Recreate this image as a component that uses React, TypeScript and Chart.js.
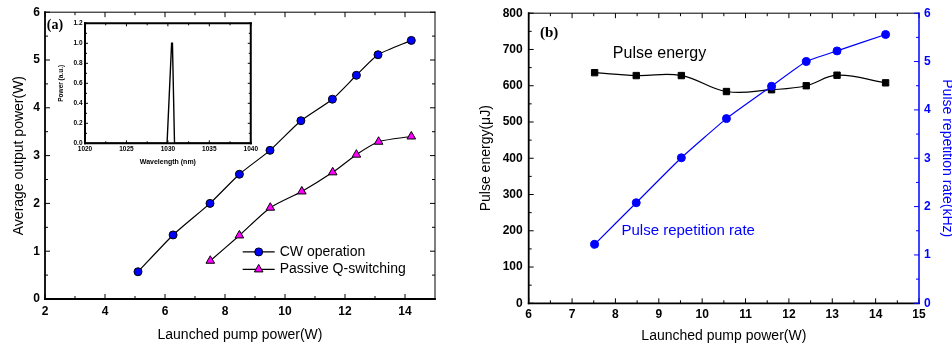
import React, { useEffect, useRef } from "react";
import { Chart, registerables } from "chart.js";
import { drawPoint } from "chart.js/helpers";

Chart.register(...registerables);

const FONT = "'Liberation Sans', Arial, Helvetica, sans-serif";
const SERIF = "'Liberation Serif', 'Times New Roman', serif";
const BLUE = "#0000ff";
const MAGENTA = "#ff00ff";

// ---- Panel (a) data ----
const pumpCW = [5.1, 6.27, 7.5, 8.48, 9.5, 10.53, 11.58, 12.38, 13.1, 14.21];
const powerCW = [0.57, 1.34, 2.0, 2.61, 3.11, 3.73, 4.18, 4.68, 5.11, 5.41];
const pumpQS = [7.51, 8.48, 9.51, 10.56, 11.59, 12.38, 13.12, 14.21];
const powerQS = [0.8, 1.33, 1.91, 2.25, 2.65, 3.02, 3.29, 3.4];
const xTicksA = [2, 4, 6, 8, 10, 12, 14];
const yTicksA = [0, 1, 2, 3, 4, 5, 6];

// ---- Inset data ----
const wavelength = [1020, 1029.9, 1030.45, 1030.55, 1030.8, 1040];
const spectrum = [0, 0, 1.0, 1.0, 0, 0];
const xTicksInset = [1020, 1025, 1030, 1035, 1040];
const yTicksInset = [0, 0.2, 0.4, 0.6, 0.8, 1.0, 1.2];

// ---- Panel (b) data ----
const pumpB = [7.52, 8.48, 9.52, 10.56, 11.6, 12.4, 13.11, 14.23];
const pulseEnergy = [636, 628, 628, 584, 589, 600, 629, 608];
const repRate = [1.22, 2.08, 3.01, 3.82, 4.49, 5.0, 5.22, 5.56];
const xTicksB = [6, 7, 8, 9, 10, 11, 12, 13, 14, 15];
const yTicksB = [0, 100, 200, 300, 400, 500, 600, 700, 800];
const y2TicksB = [0, 1, 2, 3, 4, 5, 6];

function minorsOf(majors: number[], max: number) {
  const out: number[] = [];
  for (let i = 0; i < majors.length - 1; i++) out.push((majors[i] + majors[i + 1]) / 2);
  const step = majors[1] - majors[0];
  const last = majors[majors.length - 1] + step / 2;
  if (last < max - 1e-9) out.push(last);
  return out;
}

const frameTicks = {
  id: "frameTicks",
  afterDatasetsDraw(chart: any, _args: any, opts: any) {
    const { ctx, chartArea: ca } = chart;
    ctx.save();
    for (const side of opts.sides || []) {
      const scale = chart.scales[side.scale];
      const majors = scale.ticks.map((t: any) => t.value);
      const minors = minorsOf(majors, scale.max);
      ctx.strokeStyle = side.color;
      ctx.lineWidth = side.tickWidth ?? 1;
      ctx.lineCap = "butt";
      const tick = (v: number, len: number) => {
        const p = scale.getPixelForValue(v);
        ctx.beginPath();
        if (side.pos === "bottom") { ctx.moveTo(p, ca.bottom); ctx.lineTo(p, ca.bottom - len); }
        else if (side.pos === "top") { ctx.moveTo(p, ca.top); ctx.lineTo(p, ca.top + len); }
        else if (side.pos === "left") { ctx.moveTo(ca.left, p); ctx.lineTo(ca.left + len, p); }
        else { ctx.moveTo(ca.right, p); ctx.lineTo(ca.right - len, p); }
        ctx.stroke();
      };
      majors.forEach((v: number) => tick(v, opts.major));
      minors.forEach((v: number) => tick(v, opts.minor));
      ctx.lineWidth = side.lineWidth;
      ctx.lineCap = "square";
      ctx.beginPath();
      if (side.pos === "bottom") { ctx.moveTo(ca.left, ca.bottom); ctx.lineTo(ca.right, ca.bottom); }
      else if (side.pos === "top") { ctx.moveTo(ca.left, ca.top); ctx.lineTo(ca.right, ca.top); }
      else if (side.pos === "left") { ctx.moveTo(ca.left, ca.top); ctx.lineTo(ca.left, ca.bottom); }
      else { ctx.moveTo(ca.right, ca.top); ctx.lineTo(ca.right, ca.bottom); }
      ctx.stroke();
    }
    ctx.restore();
  },
};

// text notes anchored at data coordinates
const notes = {
  id: "notes",
  afterDraw(chart: any, _args: any, opts: any) {
    const { ctx } = chart;
    ctx.save();
    for (const n of opts.items || []) {
      const x = chart.scales[n.xs].getPixelForValue(n.x);
      const y = chart.scales[n.ys].getPixelForValue(n.y);
      ctx.font = n.font;
      ctx.fillStyle = n.color;
      ctx.textAlign = "left";
      ctx.textBaseline = "middle";
      ctx.fillText(n.text, x, y);
    }
    // legend
    const lg = opts.legend;
    if (lg) {
      const x0 = chart.scales.x.getPixelForValue(lg.x);
      let y0 = chart.scales.y.getPixelForValue(lg.y);
      for (const it of lg.items) {
        ctx.strokeStyle = "#000";
        ctx.lineWidth = 1.2;
        ctx.beginPath();
        ctx.moveTo(x0, y0);
        ctx.lineTo(x0 + 32, y0);
        ctx.stroke();
        ctx.fillStyle = it.fill;
        ctx.strokeStyle = "#000";
        ctx.lineWidth = 1;
        drawPoint(ctx, { pointStyle: it.style, radius: it.radius, rotation: 0, borderWidth: 1 } as any, x0 + 16, y0);
        ctx.font = `14px ${FONT}`;
        ctx.fillStyle = "#000";
        ctx.textAlign = "left";
        ctx.textBaseline = "middle";
        ctx.fillText(it.label, x0 + 37, y0);
        y0 += 17.5;
      }
    }
    ctx.restore();
  },
};

const setTicks = (vals: number[]) => (s: any) => {
  s.ticks = vals.map((v) => ({ value: v }));
};

const tickFont = (size: number) => ({ family: FONT, size, weight: "bold" as const });

export default function App() {
  const refA = useRef<HTMLCanvasElement>(null);
  const refB = useRef<HTMLCanvasElement>(null);
  const refI = useRef<HTMLCanvasElement>(null);

  useEffect(() => {
    const charts: Chart[] = [];

    // ---------- Panel (a) ----------
    charts.push(
      new Chart(refA.current!, {
        type: "line",
        data: {
          datasets: [
            {
              label: "CW operation",
              data: pumpCW.map((x, i) => ({ x, y: powerCW[i] })),
              borderColor: "#000",
              borderWidth: 1.2,
              pointStyle: "circle",
              pointRadius: 4,
              pointBackgroundColor: BLUE,
              pointBorderColor: "#000",
              pointBorderWidth: 1,
              tension: 0.2,
            },
            {
              label: "Passive Q-switching",
              data: pumpQS.map((x, i) => ({ x, y: powerQS[i] })),
              borderColor: "#000",
              borderWidth: 1.2,
              pointStyle: "triangle",
              pointRadius: 5,
              pointBackgroundColor: MAGENTA,
              pointBorderColor: "#000",
              pointBorderWidth: 1,
              tension: 0.25,
            },
          ],
        },
        options: {
          responsive: false,
          animation: false,
          events: [],
          layout: { padding: { top: 11, right: 35, left: 0, bottom: 0 } },
          plugins: {
            legend: { display: false },
            tooltip: { enabled: false },
            frameTicks: {
              major: 5,
              minor: 3,
              sides: [
                { scale: "x", pos: "bottom", color: "#000", lineWidth: 1.8 },
                { scale: "x", pos: "top", color: "#000", lineWidth: 1 },
                { scale: "y", pos: "left", color: "#000", lineWidth: 1.8 },
                { scale: "y", pos: "right", color: "#000", lineWidth: 1 },
              ],
            },
            notes: {
              items: [{ text: "(a)", x: 2.06, y: 5.73, xs: "x", ys: "y", font: `bold 14px ${SERIF}`, color: "#000" }],
              legend: {
                x: 8.59,
                y: 0.985,
                items: [
                  { label: "CW operation", style: "circle", radius: 4, fill: BLUE },
                  { label: "Passive Q-switching", style: "triangle", radius: 5, fill: MAGENTA },
                ],
              },
            },
          } as any,
          scales: {
            x: {
              type: "linear",
              min: 2,
              max: 15,
              afterBuildTicks: setTicks(xTicksA),
              afterFit: (s: any) => { s.height = 48; },
              grid: { display: false, drawTicks: false },
              border: { display: false },
              ticks: { font: tickFont(12), color: "#000", padding: 5, maxRotation: 0 },
              title: { display: true, text: "Launched pump power(W)", font: { family: FONT, size: 14 }, color: "#000", padding: { top: 0, bottom: 3 } },
            },
            y: {
              type: "linear",
              min: 0,
              max: 6,
              afterBuildTicks: setTicks(yTicksA),
              afterFit: (s: any) => { s.width = 45; },
              grid: { display: false, drawTicks: false },
              border: { display: false },
              ticks: { font: tickFont(12), color: "#000", padding: 5 },
              title: { display: true, text: "Average output power(W)", font: { family: FONT, size: 14 }, color: "#000", padding: { top: 11, bottom: 0 } },
            },
          },
        },
        plugins: [frameTicks, notes],
      } as any)
    );

    // ---------- Inset ----------
    charts.push(
      new Chart(refI.current!, {
        type: "line",
        data: {
          datasets: [
            {
              label: "Spectrum",
              data: wavelength.map((x, i) => ({ x, y: spectrum[i] })),
              borderColor: "#000",
              borderWidth: 1.4,
              pointRadius: 0,
              tension: 0,
            },
          ],
        },
        options: {
          responsive: false,
          animation: false,
          events: [],
          layout: { padding: { top: 8.3, right: 8.3, left: 0, bottom: 0 } },
          plugins: {
            legend: { display: false },
            tooltip: { enabled: false },
            frameTicks: {
              major: 3,
              minor: 2,
              sides: [
                { scale: "x", pos: "bottom", color: "#000", lineWidth: 2 },
                { scale: "x", pos: "top", color: "#000", lineWidth: 2 },
                { scale: "y", pos: "left", color: "#000", lineWidth: 2 },
                { scale: "y", pos: "right", color: "#000", lineWidth: 2 },
              ],
            },
          } as any,
          scales: {
            x: {
              type: "linear",
              min: 1020,
              max: 1040,
              afterBuildTicks: setTicks(xTicksInset),
              afterFit: (s: any) => { s.height = 26.7; },
              grid: { display: false, drawTicks: false },
              border: { display: false },
              ticks: { font: tickFont(6.5), color: "#000", padding: 2, maxRotation: 0, callback: (v: any) => String(v) },
              title: { display: true, text: "Wavelength (nm)", font: { family: FONT, size: 7, weight: "bold" }, color: "#000", padding: { top: 0, bottom: 3.5 } },
            },
            y: {
              type: "linear",
              min: 0,
              max: 1.2,
              afterBuildTicks: setTicks(yTicksInset),
              afterFit: (s: any) => { s.width = 30; },
              grid: { display: false, drawTicks: false },
              border: { display: false },
              ticks: { font: tickFont(6.5), color: "#000", padding: 2.5, callback: (v: any) => Number(v).toFixed(1) },
              title: { display: true, text: "Power (a.u.)", font: { family: FONT, size: 6.5, weight: "bold" }, color: "#000", padding: { top: 2.5, bottom: 0 } },
            },
          },
        },
        plugins: [frameTicks],
      } as any)
    );

    // ---------- Panel (b) ----------
    charts.push(
      new Chart(refB.current!, {
        type: "line",
        data: {
          datasets: [
            {
              label: "Pulse repetition rate",
              yAxisID: "y1",
              data: pumpB.map((x, i) => ({ x, y: repRate[i] })),
              borderColor: BLUE,
              borderWidth: 1.2,
              pointStyle: "circle",
              pointRadius: 4,
              pointBackgroundColor: BLUE,
              pointBorderColor: BLUE,
              pointBorderWidth: 1,
              tension: 0.15,
            },
            {
              label: "Pulse energy",
              yAxisID: "y",
              data: pumpB.map((x, i) => ({ x, y: pulseEnergy[i] })),
              borderColor: "#000",
              borderWidth: 1.2,
              pointStyle: "rect",
              pointRadius: 4.5,
              pointBackgroundColor: "#000",
              pointBorderColor: "#000",
              pointBorderWidth: 1,
              tension: 0.4,
            },
          ],
        },
        options: {
          responsive: false,
          animation: false,
          events: [],
          layout: { padding: { top: 12.7, right: 0, left: 0, bottom: 0 } },
          plugins: {
            legend: { display: false },
            tooltip: { enabled: false },
            frameTicks: {
              major: 5,
              minor: 3,
              sides: [
                { scale: "x", pos: "bottom", color: "#000", lineWidth: 1.8 },
                { scale: "x", pos: "top", color: "#000", lineWidth: 1 },
                { scale: "y", pos: "left", color: "#000", lineWidth: 1.8 },
                { scale: "y1", pos: "right", color: BLUE, lineWidth: 1.5 },
              ],
            },
            notes: {
              items: [
                { text: "(b)", x: 6.26, y: 745, xs: "x", ys: "y", font: `bold 15px ${SERIF}`, color: "#000" },
                { text: "Pulse energy", x: 7.94, y: 688, xs: "x", ys: "y", font: `16px ${FONT}`, color: "#000" },
                { text: "Pulse repetition rate", x: 8.14, y: 199, xs: "x", ys: "y", font: `15px ${FONT}`, color: BLUE },
              ],
            },
          } as any,
          scales: {
            x: {
              type: "linear",
              min: 6,
              max: 15,
              afterBuildTicks: setTicks(xTicksB),
              afterFit: (s: any) => { s.height = 43.7; },
              grid: { display: false, drawTicks: false },
              border: { display: false },
              ticks: { font: tickFont(12), color: "#000", padding: 4, maxRotation: 0 },
              title: { display: true, text: "Launched pump power(W)", font: { family: FONT, size: 14 }, color: "#000", padding: { top: 0, bottom: 2 } },
            },
            y: {
              type: "linear",
              position: "left",
              min: 0,
              max: 800,
              afterBuildTicks: setTicks(yTicksB),
              afterFit: (s: any) => { s.width = 58.7; },
              grid: { display: false, drawTicks: false },
              border: { display: false },
              ticks: { font: tickFont(12), color: "#000", padding: 6 },
              title: { display: true, text: "Pulse energy(μJ)", font: { family: FONT, size: 14 }, color: "#000", padding: { top: 8, bottom: 0 } },
            },
            y1: {
              type: "linear",
              position: "right",
              min: 0,
              max: 6,
              afterBuildTicks: setTicks(y2TicksB),
              afterFit: (s: any) => { s.width = 33; },
              grid: { display: false, drawTicks: false },
              border: { display: false },
              ticks: { font: tickFont(12), color: BLUE, padding: 5 },
              title: { display: true, text: "Pulse repetition rate(kHz)", font: { family: FONT, size: 14, lineHeight: 1 }, color: BLUE, padding: { top: -2, bottom: 0 } },
            },
          },
        },
        plugins: [frameTicks, notes],
      } as any)
    );

    return () => charts.forEach((c) => c.destroy());
  }, []);

  return (
    <div style={{ position: "absolute", left: 0, top: 0, width: 952, height: 347, background: "#fff", overflow: "hidden" }}>
      <canvas ref={refA} width={470} height={347} style={{ position: "absolute", left: 0, top: 0 }} />
      <canvas ref={refI} width={205} height={155} style={{ position: "absolute", left: 55, top: 15 }} />
      <canvas ref={refB} width={482} height={347} style={{ position: "absolute", left: 470, top: 0 }} />
    </div>
  );
}
